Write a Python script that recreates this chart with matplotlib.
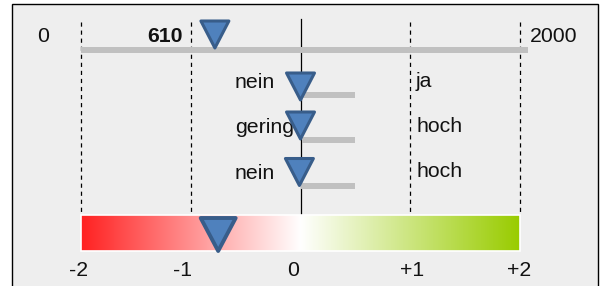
import matplotlib
import numpy as np

matplotlib.use("Agg")

from matplotlib import pyplot as plt  # noqa: E402
from matplotlib.colors import LinearSegmentedColormap  # noqa: E402
from matplotlib.patches import Polygon, Rectangle  # noqa: E402

# data
top_min, top_max, top_value = 0, 2000, 610
row_left = ["nein", "gering", "nein"]
row_right = ["ja", "hoch", "hoch"]
row_values = [0.0, 0.0, -0.01]
row_bar_end = [0.5, 0.5, 0.5]
scale_ticks = [-2, -1, 0, 1, 2]
scale_labels = ["-2", "-1", "0", "+1", "+2"]
score_value = -0.75

# layout helpers (pixel based, y grows downward)
W, H = 602, 286
X0_PX, UNIT_PX = 300.5, 109.75


def px(x):
    return (x - X0_PX) / UNIT_PX


def triangle(ax, value, y_top, y_tip, width_px, lw):
    half = width_px / 2 / UNIT_PX
    tri = Polygon(
        [(value - half, y_top), (value + half, y_top), (value, y_tip)],
        closed=True,
        facecolor="#4f81bd",
        edgecolor="#385d8a",
        linewidth=lw,
        joinstyle="round",
        zorder=5,
    )
    ax.add_patch(tri)


plt.rcParams.update({"font.family": ["Liberation Sans", "DejaVu Sans"], "lines.scale_dashes": False})
fig = plt.figure(figsize=(W / 100, H / 100), dpi=100, facecolor="white")
ax = fig.add_axes([0, 0, 1, 1])
ax.set_xlim(px(0), px(W))
ax.set_ylim(H, 0)
ax.set_axis_off()

ax.add_patch(Rectangle((px(12), 4.3), (598 - 12) / UNIT_PX, 320, facecolor="#eeeeee",
                       edgecolor="black", linewidth=1.0, zorder=0))

# guide lines
for t in scale_ticks:
    if t == 0:
        ax.plot([t, t], [19, 214], color="black", linewidth=0.9, zorder=1)
    else:
        ax.plot([t, t], [22, 213], color="black", linewidth=0.9, dashes=(3.0, 2.8), zorder=1)

# top slider 0..2000
top_pos = -2 + 4 * (top_value - top_min) / (top_max - top_min)
ax.plot([-2, 2.07], [49.7, 49.7], color="#c0c0c0", linewidth=4.3, solid_capstyle="butt", zorder=2)
triangle(ax, top_pos, 21, 48, 28, 2.2)
fs = 15.3
ax.text(px(43.5), 42, str(top_min), ha="center", va="baseline", fontsize=fs, color="#111111")
ax.text(px(183), 42, str(top_value), ha="right", va="baseline", fontsize=fs, fontweight="bold",
        color="#111111")
ax.text(px(530), 42, str(top_max), ha="left", va="baseline", fontsize=fs, color="#111111")

# rows
bar_y = [95, 140, 186]
tip_y = [100, 139, 185.5]
text_base = [88, 133, 179]
right_base = [87, 132, 177]
for i in range(len(row_left)):
    ax.plot([row_values[i] + 0.01, row_bar_end[i]], [bar_y[i], bar_y[i]], color="#c0c0c0",
            linewidth=4.3, solid_capstyle="butt", zorder=2)
    triangle(ax, row_values[i], tip_y[i] - 27, tip_y[i], 28, 2.2)
    ax.text(px(235), text_base[i], row_left[i], ha="left", va="baseline", fontsize=fs,
            color="#111111", zorder=3)
    ax.text(px(416), right_base[i], row_right[i], ha="left", va="baseline", fontsize=fs,
            color="#111111", zorder=3)

# color scale
cmap = LinearSegmentedColormap.from_list("score", ["#ff2222", "#ffffff", "#99cc00"])
grad = np.linspace(0, 1, 256)[None, :]
ax.imshow(grad, cmap=cmap, extent=(scale_ticks[0], scale_ticks[-1], 251, 215), aspect="auto",
          interpolation="bilinear", zorder=2)
ax.add_patch(Rectangle((scale_ticks[0], 215), scale_ticks[-1] - scale_ticks[0], 36,
                       facecolor="none", edgecolor="white", linewidth=1.2, zorder=3))
triangle(ax, score_value, 218, 251, 35, 2.8)

label_px = [79, 183, 293, 412, 519]
for lp, lab in zip(label_px, scale_labels):
    ax.text(px(lp), 276, lab, ha="center", va="baseline", fontsize=fs, color="#111111")

fig.savefig("out.png", dpi=100, facecolor=fig.get_facecolor())
